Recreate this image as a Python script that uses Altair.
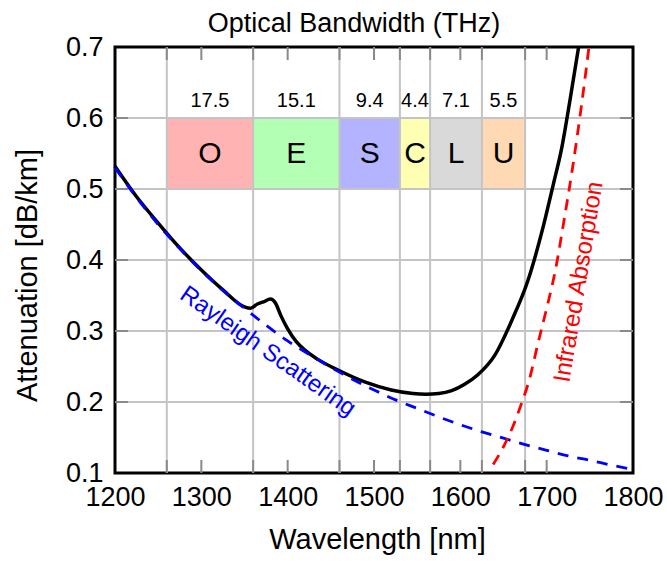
import altair as alt
import pandas as pd

FONT = "Liberation Sans"

# ---------------- data ----------------
chart_title = ["Optical Bandwidth (THz)"]

band_names = ["O", "E", "S", "C", "L", "U"]
band_start = [1260, 1360, 1460, 1530, 1565, 1625]
band_end = [1360, 1460, 1530, 1565, 1625, 1675]
band_thz = ["17.5", "15.1", "9.4", "4.4", "7.1", "5.5"]
band_colors = ["#ffb3b3", "#b3ffb3", "#b3b3ff", "#ffffb3", "#d9d9d9", "#ffd9b3"]
band_low = 0.5
band_high = 0.6
thz_label_y = 0.624
band_label_y = 0.55

total_nm = [1200, 1225, 1250, 1275, 1300, 1325, 1350, 1357, 1365, 1372, 1380, 1386,
            1392, 1400, 1410, 1420, 1435, 1460, 1490, 1520, 1545, 1560, 1575, 1590,
            1605, 1620, 1640, 1660, 1678, 1696, 1708, 1717, 1727, 1737]
total_att = [0.532, 0.489, 0.452, 0.417, 0.386, 0.358, 0.334, 0.332, 0.338, 0.341, 0.345, 0.339,
             0.322, 0.303, 0.285, 0.273, 0.260, 0.244, 0.228, 0.217, 0.212, 0.211, 0.212, 0.216,
             0.225, 0.238, 0.266, 0.316, 0.370, 0.447, 0.508, 0.555, 0.625, 0.700]

rayleigh_nm = [1200, 1225, 1250, 1275, 1300, 1325, 1350, 1375, 1400, 1425, 1450, 1475, 1500,
               1525, 1550, 1575, 1600, 1625, 1650, 1675, 1700, 1725, 1750, 1775, 1800]
rayleigh_att = [0.530, 0.488, 0.450, 0.416, 0.385, 0.357, 0.332, 0.308, 0.286, 0.267, 0.249,
                0.232, 0.217, 0.203, 0.191, 0.179, 0.168, 0.158, 0.149, 0.140, 0.132, 0.124,
                0.118, 0.111, 0.105]

ir_nm = [1638, 1650, 1660, 1670, 1680, 1690, 1700, 1710, 1720, 1730, 1740, 1749]
ir_att = [0.112, 0.137, 0.163, 0.195, 0.232, 0.283, 0.332, 0.385, 0.455, 0.530, 0.615, 0.700]

x_tick_values = [1200, 1300, 1400, 1500, 1600, 1700, 1800]
y_tick_values = [0.1, 0.2, 0.3, 0.4, 0.5, 0.6, 0.7]
x_grid_values = [1260, 1360, 1460, 1530, 1565, 1625, 1675]
x_short_ticks = [1260, 1300, 1360, 1400, 1460, 1500, 1530, 1565, 1600, 1625, 1675, 1700]
y_grid_values = [0.2, 0.3, 0.4, 0.5, 0.6]

rayleigh_label = ["Rayleigh Scattering"]
rayleigh_label_pos = [1377, 0.271]
ir_label = ["Infrared Absorption"]
ir_label_pos = [1737.5, 0.369]

# ---------------- chart ----------------
W, H = 518, 426
XS = alt.Scale(domain=[1200, 1800], nice=False, zero=False)
YS = alt.Scale(domain=[0.1, 0.7], nice=False, zero=False)

X_AX = alt.Axis(values=x_tick_values, format="d", grid=False, ticks=False,
                tickSize=0, domain=False, labelFontSize=27, labelFont=FONT,
                labelColor="black", labelFlush=False, labelOverlap=False,
                labelPadding=32, labelBaseline="alphabetic",
                titleFontSize=29, titleFont=FONT, titleFontWeight="normal",
                titleColor="black", titleBaseline="alphabetic", titleY=75, titleX=262)
Y_AX = alt.Axis(values=y_tick_values, format=".1f", grid=False, ticks=False,
                tickSize=0, domain=False, labelFontSize=27, labelFont=FONT,
                labelColor="black", labelFlush=False, labelOverlap=False,
                labelPadding=12,
                titleFontSize=29, titleFont=FONT, titleFontWeight="normal",
                titleColor="black", titleBaseline="alphabetic", titleAngle=270,
                titleX=-79, titleY=228)
XT = "Wavelength [nm]"
YT = "Attenuation [dB/km]"


def X(field):
    return alt.X(field, scale=XS, axis=X_AX, title=XT)


def Y(field):
    return alt.Y(field, scale=YS, axis=Y_AX, title=YT)


bands = pd.DataFrame({"name": band_names, "x0": band_start, "x1": band_end,
                      "thz": band_thz, "color": band_colors})
bands["mid"] = (bands["x0"] + bands["x1"]) / 2
bands["lo"] = band_low
bands["hi"] = band_high
bands["ty"] = thz_label_y
bands["ly"] = band_label_y

rect = alt.Chart(bands).mark_rect().encode(
    x=X("x0:Q"), x2="x1:Q", y=Y("lo:Q"), y2="hi:Q",
    color=alt.Color("color:N", scale=None),
)

vgrid = alt.Chart(pd.DataFrame({"x": x_grid_values})).mark_rule(
    color="#c4c4c4", strokeWidth=2).encode(x=X("x:Q"))
hgrid = alt.Chart(pd.DataFrame({"y": y_grid_values})).mark_rule(
    color="#c4c4c4", strokeWidth=2).encode(y=Y("y:Q"))

TL = 13
tick_color = "#8a8a8a"
xt_df = pd.DataFrame({"x": x_short_ticks})
bt = alt.Chart(xt_df).mark_rule(color=tick_color, strokeWidth=2).encode(
    x=X("x:Q"), y=alt.value(H), y2=alt.value(H - TL))
tt = alt.Chart(xt_df).mark_rule(color=tick_color, strokeWidth=2).encode(
    x=X("x:Q"), y=alt.value(0), y2=alt.value(TL))
yt_df = pd.DataFrame({"y": y_grid_values})
lt = alt.Chart(yt_df).mark_rule(color=tick_color, strokeWidth=2).encode(
    y=Y("y:Q"), x=alt.value(0), x2=alt.value(TL))
rt = alt.Chart(yt_df).mark_rule(color=tick_color, strokeWidth=2).encode(
    y=Y("y:Q"), x=alt.value(W), x2=alt.value(W - TL))

thz_text = alt.Chart(bands).mark_text(font=FONT, fontSize=20, color="black",
                                      baseline="middle", align="center").encode(
    x=X("mid:Q"), y=Y("ty:Q"), text="thz:N")
band_text = alt.Chart(bands).mark_text(font=FONT, fontSize=30, color="black",
                                       baseline="middle", align="center").encode(
    x=X("mid:Q"), y=Y("ly:Q"), text="name:N")

total = alt.Chart(pd.DataFrame({"nm": total_nm, "att": total_att})).mark_line(
    color="black", strokeWidth=3.5, interpolate="monotone").encode(
    x=X("nm:Q"), y=Y("att:Q"))

rayleigh = alt.Chart(pd.DataFrame({"nm": rayleigh_nm, "att": rayleigh_att})).mark_line(
    color="#0000ff", strokeWidth=2.8, strokeDash=[11, 9], interpolate="monotone").encode(
    x=X("nm:Q"), y=Y("att:Q"))

ir = alt.Chart(pd.DataFrame({"nm": ir_nm, "att": ir_att})).mark_line(
    color="#ff0000", strokeWidth=2.8, strokeDash=[11, 8], interpolate="monotone").encode(
    x=X("nm:Q"), y=Y("att:Q"))

ray_text = alt.Chart(pd.DataFrame({"t": rayleigh_label, "x": [rayleigh_label_pos[0]],
                                   "y": [rayleigh_label_pos[1]]})).mark_text(
    font=FONT, fontSize=24, color="#0000ff", angle=35, align="center", baseline="middle").encode(
    x=X("x:Q"), y=Y("y:Q"), text="t:N")

ir_text = alt.Chart(pd.DataFrame({"t": ir_label, "x": [ir_label_pos[0]],
                                  "y": [ir_label_pos[1]]})).mark_text(
    font=FONT, fontSize=24, color="#ff0000", angle=279.5, align="center", baseline="middle").encode(
    x=X("x:Q"), y=Y("y:Q"), text="t:N")

title_text = alt.Chart(pd.DataFrame({"t": chart_title})).mark_text(
    font=FONT, fontSize=27, color="black", align="center", baseline="alphabetic").encode(
    x=alt.value(239), y=alt.value(-15), text="t:N")

chart = alt.layer(
    rect, vgrid, hgrid, bt, tt, lt, rt, thz_text, band_text, total, rayleigh, ir,
    ray_text, ir_text, title_text
).properties(
    width=W, height=H,
    background="white",
    autosize=alt.AutoSizeParams(type="none"),
    padding={"left": 115, "top": 47, "right": 34, "bottom": 88},
).configure_view(
    stroke="black", strokeWidth=3
)

chart.save("out.html", embed_options={"renderer": "svg", "actions": False})
